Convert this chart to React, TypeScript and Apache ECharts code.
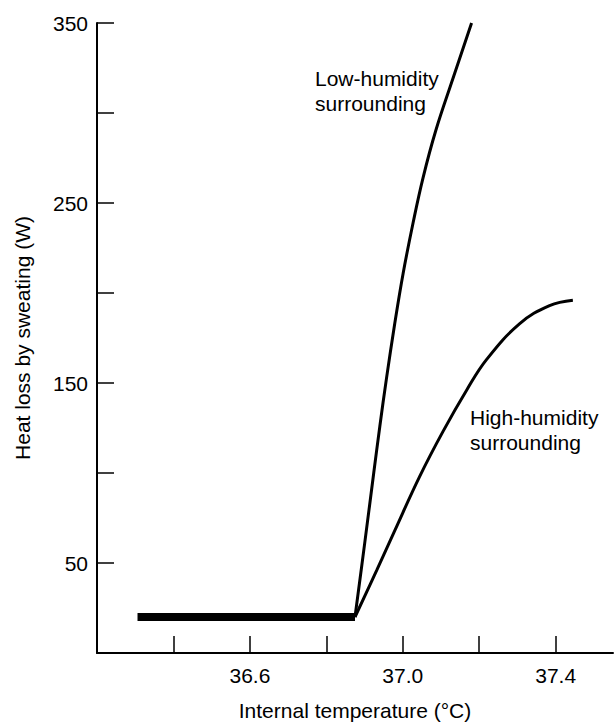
import React, { useEffect, useRef } from "react";
import * as echarts from "echarts";

// Baseline (thick flat segment)
const baseTemps = [36.306, 36.875];
const baseValues = [20, 20];

// Low-humidity surrounding curve
const lowTemps = [36.875, 36.901, 36.924, 36.94, 36.957, 36.979, 37.001, 37.027, 37.053, 37.086, 37.131, 37.18];
const lowValues = [20, 62, 100, 126, 152, 183, 211, 239, 264, 290, 319, 350];

// High-humidity surrounding curve
const highTemps = [36.875, 36.932, 36.979, 37.044, 37.105, 37.167, 37.219, 37.306, 37.384, 37.445];
const highValues = [20, 46, 68, 98, 123, 146, 163, 183, 193, 196];

const xLabeled = ["36.6", "37.0", "37.4"];
const yLabeled = ["50", "150", "250", "350"];

const FONT = "'Liberation Sans', Arial, Helvetica, sans-serif";

const zip = (xs: number[], ys: number[]) => xs.map((x, i) => [x, ys[i]]);

export default function App() {
  const ref = useRef<HTMLDivElement>(null);
  useEffect(() => {
    if (!ref.current) return;
    const chart = echarts.init(ref.current, undefined, { renderer: "svg" });
    const lineCommon = {
      type: "line" as const,
      symbol: "none",
      silent: true,
    };
    chart.setOption({
      animation: false,
      backgroundColor: "#ffffff",
      grid: { left: 97, right: 2, top: 23, bottom: 63, containLabel: false },
      xAxis: {
        type: "value",
        min: 36.2,
        max: 37.55,
        interval: 0.2,
        name: "Internal temperature (°C)",
        nameLocation: "middle",
        nameGap: 47,
        nameTextStyle: { fontFamily: FONT, fontSize: 21, color: "#000" },
        axisLine: { show: true, onZero: false, lineStyle: { color: "#000", width: 2 } },
        axisTick: { show: true, inside: true, length: 17, lineStyle: { color: "#000", width: 1.5 } },
        axisLabel: {
          margin: 12,
          fontFamily: FONT,
          fontSize: 21,
          color: "#000",
          showMaxLabel: false,
          formatter: (v: number) => {
            const s = (Math.round(v * 10) / 10).toFixed(1);
            return xLabeled.includes(s) ? s : "";
          },
        },
        splitLine: { show: false },
      },
      yAxis: {
        type: "value",
        min: 0,
        max: 350,
        interval: 50,
        name: "Heat loss by sweating (W)",
        nameLocation: "middle",
        nameGap: 64,
        nameRotate: 90,
        nameTextStyle: { fontFamily: FONT, fontSize: 21, color: "#000" },
        axisLine: { show: true, onZero: false, lineStyle: { color: "#000", width: 2 } },
        axisTick: { show: true, inside: true, length: 17, lineStyle: { color: "#000", width: 1.5 } },
        axisLabel: {
          margin: 9,
          fontFamily: FONT,
          fontSize: 21,
          color: "#000",
          formatter: (v: number) => {
            const s = String(Math.round(v));
            return yLabeled.includes(s) ? s : "";
          },
        },
        splitLine: { show: false },
      },
      series: [
        {
          ...lineCommon,
          name: "baseline",
          data: zip(baseTemps, baseValues),
          lineStyle: { color: "#000", width: 8, cap: "butt" },
        },
        {
          ...lineCommon,
          name: "Low-humidity surrounding",
          data: zip(lowTemps, lowValues),
          smooth: 0.4,
          lineStyle: { color: "#000", width: 3 },
        },
        {
          ...lineCommon,
          name: "High-humidity surrounding",
          data: zip(highTemps, highValues),
          smooth: 0.4,
          lineStyle: { color: "#000", width: 3 },
        },
      ],
      graphic: [
        {
          type: "text",
          left: 315,
          top: 66,
          style: {
            text: "Low-humidity\nsurrounding",
            font: `21px ${FONT}`,
            fill: "#000",
            lineHeight: 25,
          },
        },
        {
          type: "text",
          left: 470,
          top: 405,
          style: {
            text: "High-humidity\nsurrounding",
            font: `21px ${FONT}`,
            fill: "#000",
            lineHeight: 25,
          },
        },
      ],
    });
    return () => chart.dispose();
  }, []);
  return (
    <div
      ref={ref}
      style={{ position: "fixed", left: 0, top: 0, width: 615, height: 726, background: "#fff" }}
    />
  );
}
